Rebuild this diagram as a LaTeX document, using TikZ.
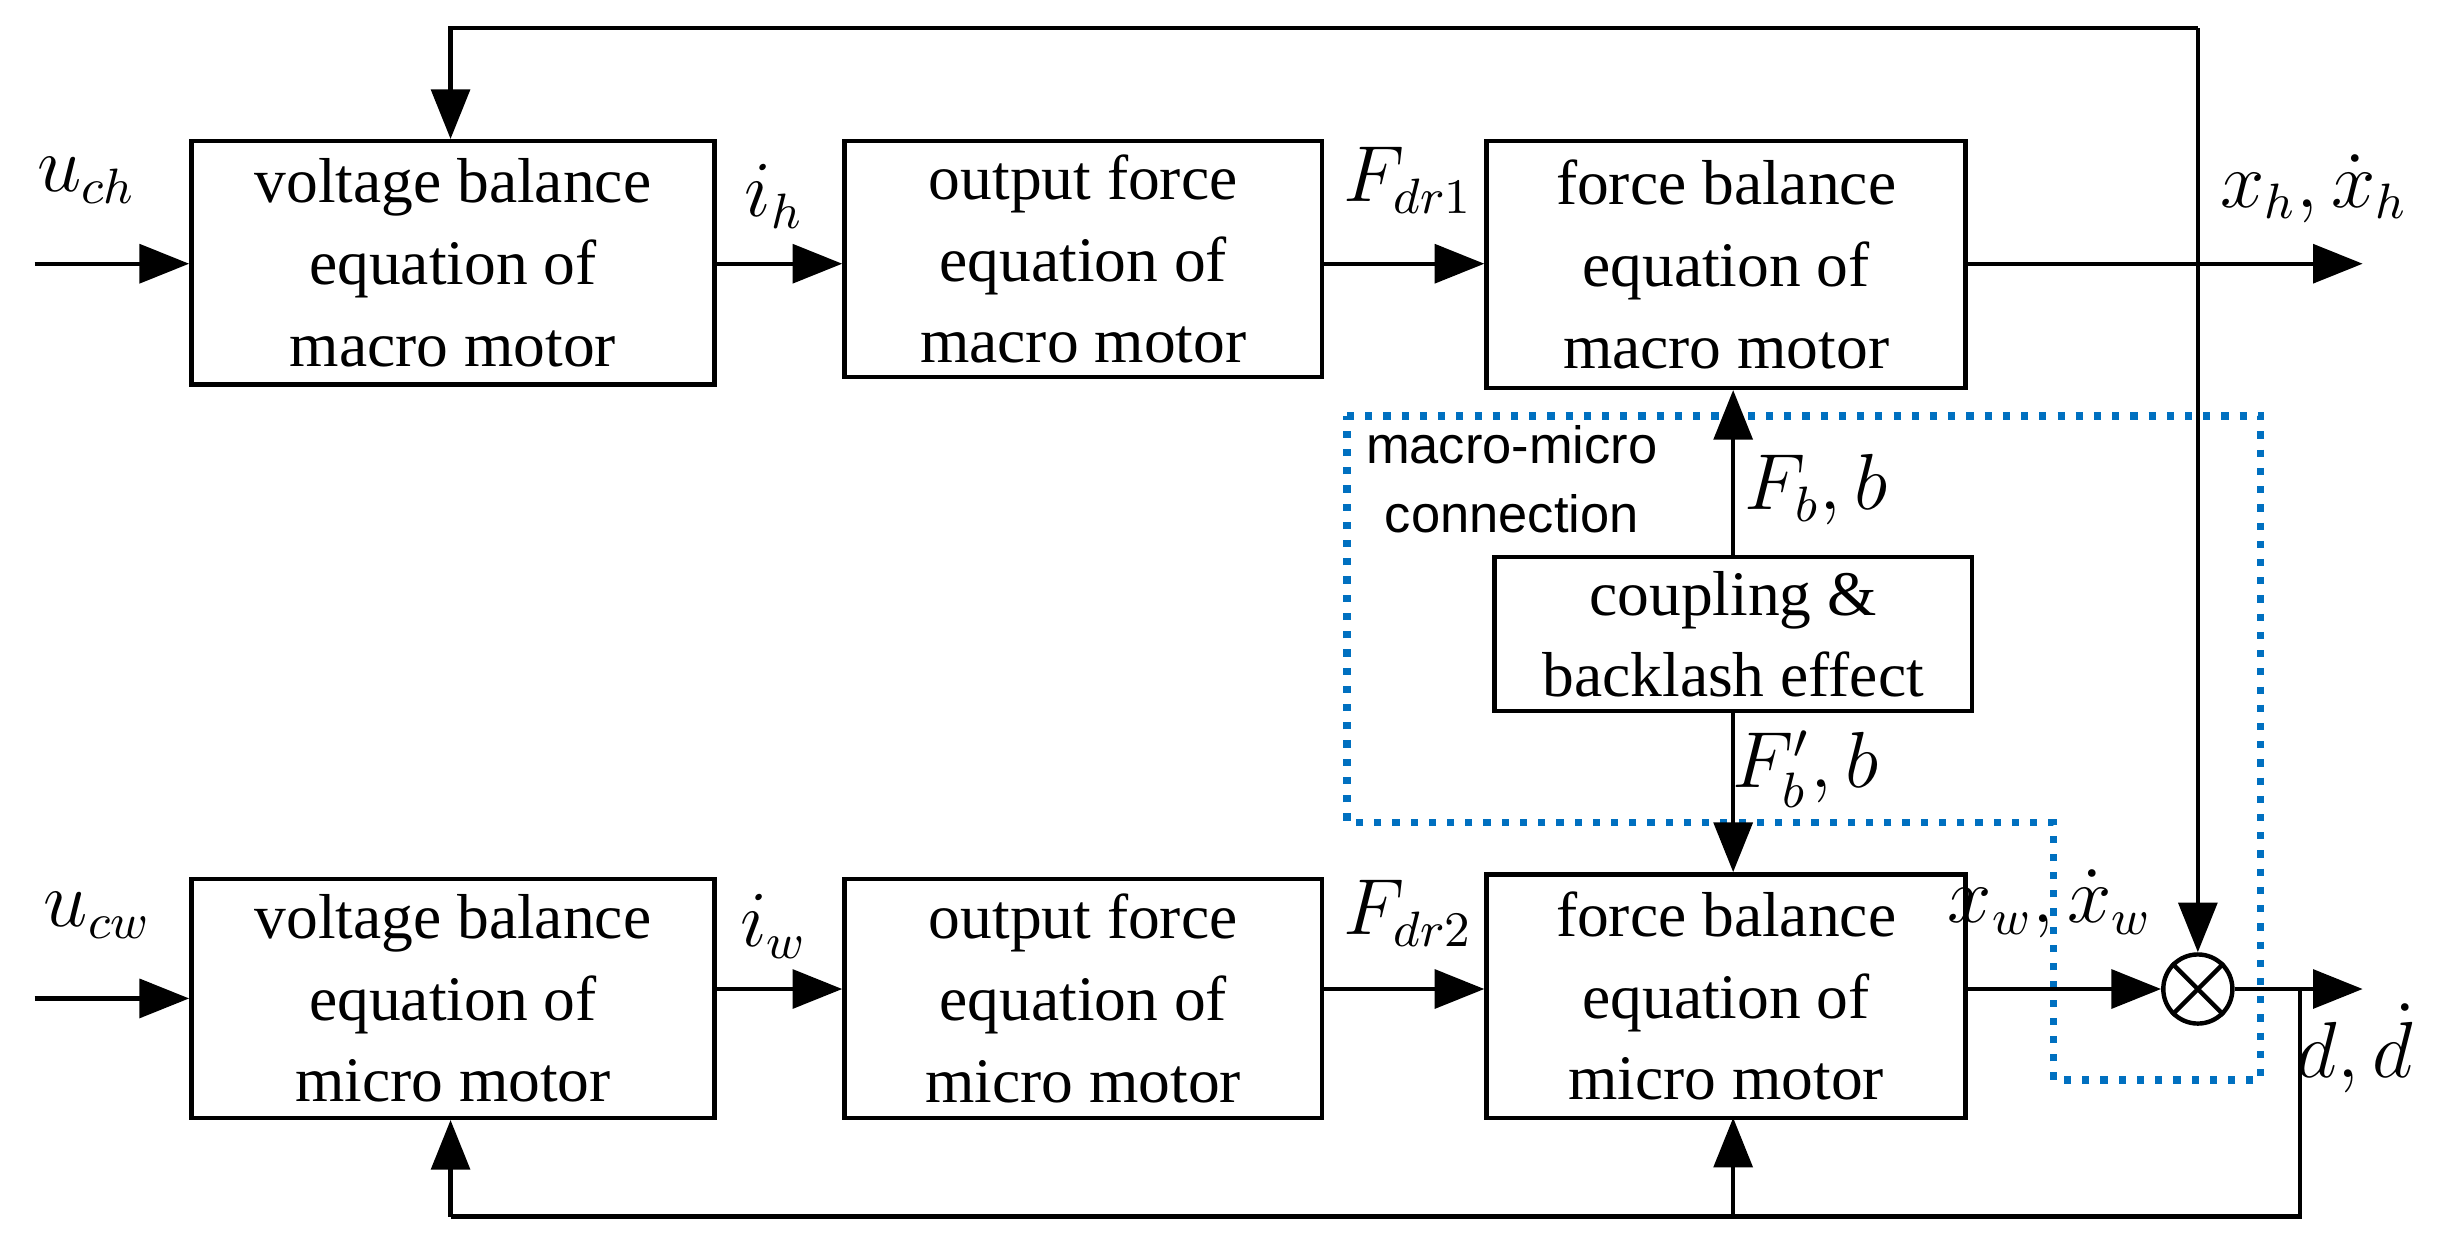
\documentclass[tikz,border=0pt]{standalone}
\usepackage{fontspec}
\setmainfont{Liberation Serif}
\newfontfamily\lsans{Liberation Sans}
\usetikzlibrary{arrows.meta}
\begin{document}
\begin{tikzpicture}[x=0.01cm,y=-0.01cm,
  blk/.style={draw,line width=0.8pt,inner sep=0pt,align=center,font=\fontsize{11.5}{14.8}\selectfont},
  arr/.style={-{Triangle[length=9pt,width=7pt]},line width=0.8pt},
  ln/.style={line width=0.8pt},
  lab/.style={font=\fontsize{13.5}{16}\selectfont,inner sep=1pt}]
\useasboundingbox (0,0) rectangle (1567,792);
\node[blk,minimum width=3.33cm,minimum height=1.55cm] (b1) at (288.5,167.5) {voltage balance\\equation of\\macro motor};
\node[blk,minimum width=3.04cm,minimum height=1.50cm] (b2) at (690,165) {output force\\equation of\\macro motor};
\node[blk,minimum width=3.05cm,minimum height=1.57cm] (b3) at (1099.5,168.5) {force balance\\equation of\\macro motor};
\node[blk,minimum width=3.33cm,minimum height=1.52cm] (b4) at (288.5,636) {voltage balance\\equation of\\micro motor};
\node[blk,minimum width=3.04cm,minimum height=1.52cm] (b5) at (690,636) {output force\\equation of\\micro motor};
\node[blk,minimum width=3.05cm,minimum height=1.55cm] (b6) at (1099.5,634.5) {force balance\\equation of\\micro motor};
\node[blk,minimum width=3.04cm,minimum height=0.98cm] (cb) at (1104,404) {coupling \&\\backlash effect};
\node[draw,circle,line width=0.8pt,minimum size=0.44cm,inner sep=0pt] (s) at (1400,630) {};
\draw[ln] (s.north west)--(s.south east) (s.north east)--(s.south west);
% dotted box
\draw[line width=1.3pt,dotted,color={rgb,255:red,0;green,112;blue,192}]
  (858,265)--(1440,265)--(1440,688)--(1308,688)--(1308,524)--(858,524)--cycle;
% inputs
\coordinate (in1) at (22,168); \coordinate (in2) at (22,636);
\draw[arr] (in1)--(b1.west|-in1);
\draw[arr] (in2)--(b4.west|-in2);
\draw[arr] (b1.east|-0,168)--(b2.west|-0,168);
\draw[arr] (b2.east|-0,168)--(b3.west|-0,168);
\draw[arr] (b4.east|-0,630)--(b5.west|-0,630);
\draw[arr] (b5.east|-0,630)--(b6.west|-0,630);
\coordinate (o1) at (1505,168);
\draw[arr] (b3.east|-o1)--(o1);
\draw[arr] (b6.east|-s)--(s.west);
\coordinate (o2) at (1505,630);
\draw[arr] (s.east)--(o2);
% top feedback
\coordinate (t1) at (1400,18); \coordinate (t2) at (287,18);
\draw[arr] (s.north|-t1)--(s.north);
\draw[arr] (t1)--(t2)--(t2|-b1.north);
% bottom feedback
\coordinate (f1) at (1465,630); \coordinate (f2) at (1465,775); \coordinate (f3) at (287,775);
\draw[ln] (f1)--(f2)--(f3);
\draw[arr] (f3)--(f3|-b4.south);
\draw[arr] (1104,775)--(1104,712);
% coupling
\draw[arr] (cb.north)--(cb.north|-b3.south);
\draw[arr] (cb.south)--(cb.south|-b6.north);
% labels
\node[lab] at (55,115) {$u_{ch}$};
\node[lab] at (493,125) {$i_h$};
\node[lab] at (897,115) {$F_{dr1}$};
\node[lab] at (1474,120) {$x_h,\dot x_h$};
\node[lab] at (62,583) {$u_{cw}$};
\node[lab] at (493,590) {$i_w$};
\node[lab] at (897,582) {$F_{dr2}$};
\node[lab] at (1306,576) {$x_w,\dot x_w$};
\node[lab] at (1500,668) {$d,\dot d$};
\node[lab] at (1157,312) {$F_b,b$};
\node[lab] at (1150,490) {$F_b',b$};
\node[font=\lsans\fontsize{9.5}{12.5}\selectfont,align=center] at (963,305) {macro-micro\\connection};
\end{tikzpicture}
\end{document}
